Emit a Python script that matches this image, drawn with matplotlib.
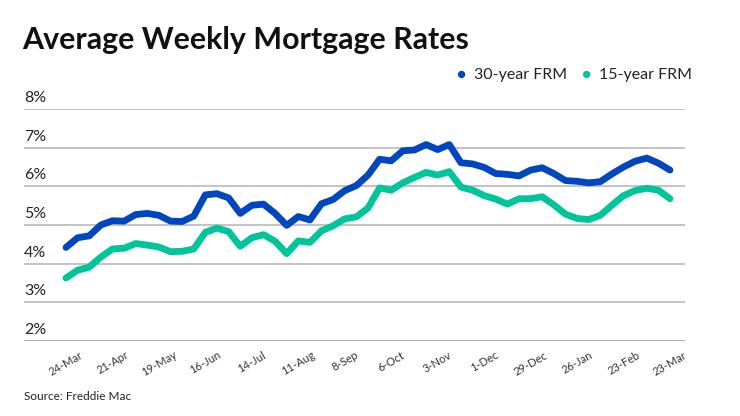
import numpy as np
import matplotlib.pyplot as plt
from matplotlib.transforms import blended_transform_factory

plt.rcParams['font.family'] = ['Lato', 'DejaVu Sans']

# Freddie Mac weekly averages, 24-Mar-2022 .. 23-Mar-2023
rate_30 = [4.42, 4.67, 4.72, 5.00, 5.11, 5.10, 5.27, 5.30, 5.25, 5.10,
           5.09, 5.23, 5.78, 5.81, 5.70, 5.30, 5.51, 5.54, 5.30, 4.99,
           5.22, 5.13, 5.55, 5.66, 5.89, 6.02, 6.29, 6.70, 6.66, 6.92,
           6.94, 7.08, 6.95, 7.08, 6.61, 6.58, 6.49, 6.33, 6.31, 6.27,
           6.42, 6.48, 6.33, 6.15, 6.13, 6.09, 6.12, 6.32, 6.50, 6.65,
           6.73, 6.60, 6.42]
rate_15 = [3.63, 3.83, 3.91, 4.17, 4.38, 4.40, 4.52, 4.48, 4.43, 4.31,
           4.32, 4.38, 4.81, 4.92, 4.83, 4.45, 4.67, 4.75, 4.58, 4.26,
           4.59, 4.55, 4.85, 4.98, 5.16, 5.21, 5.44, 5.96, 5.90, 6.09,
           6.23, 6.36, 6.29, 6.38, 5.98, 5.90, 5.76, 5.67, 5.54, 5.68,
           5.68, 5.73, 5.52, 5.28, 5.17, 5.14, 5.25, 5.51, 5.76, 5.89,
           5.95, 5.90, 5.68]
tick_pos = [0, 4, 8, 12, 16, 20, 24, 28, 32, 36, 40, 44, 48, 52]
tick_labels = ['24-Mar', '21-Apr', '19-May', '16-Jun', '14-Jul', '11-Aug', '8-Sep',
               '6-Oct', '3-Nov', '1-Dec', '29-Dec', '26-Jan', '23-Feb', '23-Mar']
y_levels = [2, 3, 4, 5, 6, 7, 8]

blue = '#0046be'
teal = '#00c49a'

fig = plt.figure(figsize=(7.4, 4.16), dpi=100)
ax = fig.add_axes([24 / 740, 1 - 341 / 416, (685 - 24) / 740, (341 - 109) / 416])

weeks = np.arange(len(rate_30))
ax.plot(weeks, rate_30, color=blue, lw=4.9, solid_capstyle='round', solid_joinstyle='round', zorder=3)
ax.plot(weeks, rate_15, color=teal, lw=4.9, solid_capstyle='round', solid_joinstyle='round', zorder=3)

ppu = 604 / 52
ax.set_xlim(-(66 - 24) / ppu, 52 + (685 - 670) / ppu)
ax.set_ylim(2, 8)

for y in y_levels:
    ax.axhline(y, color='#999999' if y == 2 else '#b3b3b3', lw=1.1, zorder=1)
trans = blended_transform_factory(ax.transAxes, ax.transData)
for y in y_levels:
    ax.text(0, y + 0.1, f'{y}%', transform=trans, ha='left', va='bottom',
            fontsize=11.5, color='#222222')

ax.set_xticks(tick_pos)
ax.set_xticklabels(tick_labels, rotation=30, ha='center', fontsize=8, color='#333333')
ax.tick_params(axis='x', length=0, pad=6)
ax.set_yticks([])
for s in ax.spines.values():
    s.set_visible(False)

fig.text(22 / 740, 1 - 40 / 416, 'Average Weekly Mortgage Rates', fontsize=21.9,
         fontweight='bold', ha='left', va='center', color='#111111')

# legend
fig.text(461 / 740, 1 - 75 / 416, '\u25cf', color=blue, fontsize=11, ha='center', va='center')
fig.text(474 / 740, 1 - 75 / 416, '30-year FRM', fontsize=11.5, ha='left', va='center', color='#222222')
fig.text(586 / 740, 1 - 75 / 416, '\u25cf', color=teal, fontsize=11, ha='center', va='center')
fig.text(599 / 740, 1 - 75 / 416, '15-year FRM', fontsize=11.5, ha='left', va='center', color='#222222')

fig.text(24 / 740, 1 - 397 / 416, 'Source: Freddie Mac', fontsize=8.5, ha='left', va='center', color='#222222')

fig.savefig('out.png', dpi=100)
